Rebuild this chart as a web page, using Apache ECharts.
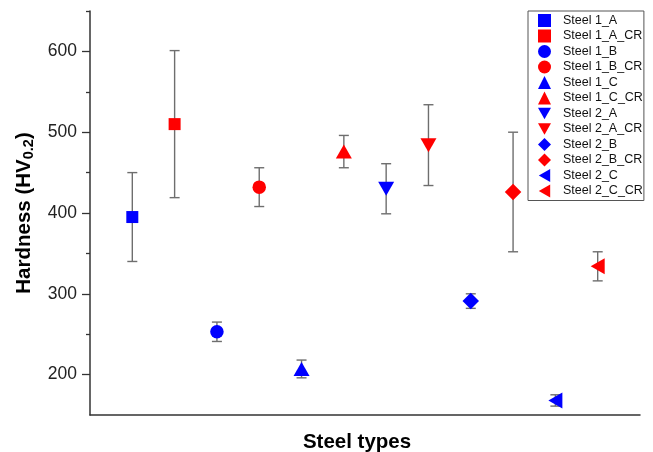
<!DOCTYPE html>
<html>
<head>
<meta charset="utf-8">
<script src="https://cdn.jsdelivr.net/npm/echarts@6/dist/echarts.min.js"></script>
<style>
html,body{margin:0;padding:0;background:#fff;}
#chart{width:653px;height:452px;}
</style>
</head>
<body>
<div id="chart"></div>
<script>
// ---- data ----
const seriesNames = ['Steel 1_A','Steel 1_A_CR','Steel 1_B','Steel 1_B_CR','Steel 1_C','Steel 1_C_CR',
                     'Steel 2_A','Steel 2_A_CR','Steel 2_B','Steel 2_B_CR','Steel 2_C','Steel 2_C_CR'];
const xPositions = [1,2,3,4,5,6,7,8,9,10,11,12];
const hardness = [395, 510, 253, 432, 207, 476, 430, 484, 291, 426, 168, 334];
const errors   = [ 55,  91,  12,  24,  11,  20,  31,  50,   9,  74,   7,  18];
const yTicks = [200, 300, 400, 500, 600];
const yMinorTicks = [250, 350, 450, 550, 650];

// ---- styles ----
const colors = ['#0000ff','#ff0000'];
const TRI_DOWN = 'path://M0,0L16,0L8,14Z';
const TRI_LEFT = 'path://M14,0L14,16L0,8Z';
const symbols = ['rect','rect','circle','circle','triangle','triangle',TRI_DOWN,TRI_DOWN,'diamond','diamond',TRI_LEFT,TRI_LEFT];
const sizes = [12,12,13.5,13.5,[16,14],[16,14],[16,14],[16,14],16.5,16.5,[14,16],[14,16]];

const FONT = 'Liberation Sans, Arial, sans-serif';

const scatterSeries = seriesNames.map((name, i) => ({
  name: name,
  type: 'scatter',
  symbol: symbols[i],
  symbolSize: sizes[i],
  itemStyle: { color: colors[i % 2], opacity: 1 },
  data: [[xPositions[i], hardness[i]]],
  z: 3
}));

const errData = xPositions.map((x, i) => [x, hardness[i] - errors[i], hardness[i] + errors[i]]);

const errorSeries = {
  type: 'custom',
  name: 'err',
  data: errData,
  z: 2,
  silent: true,
  renderItem: function (params, api) {
    const x = api.value(0);
    const lo = api.coord([x, api.value(1)]);
    const hi = api.coord([x, api.value(2)]);
    const hw = 5;
    const style = { stroke: '#6e6e6e', lineWidth: 1.4, fill: null };
    return {
      type: 'group',
      children: [
        { type: 'line', shape: { x1: lo[0], y1: lo[1], x2: hi[0], y2: hi[1] }, style: style },
        { type: 'line', shape: { x1: lo[0]-hw, y1: lo[1], x2: lo[0]+hw, y2: lo[1] }, style: style },
        { type: 'line', shape: { x1: hi[0]-hw, y1: hi[1], x2: hi[0]+hw, y2: hi[1] }, style: style }
      ]
    };
  }
};

const chart = echarts.init(document.getElementById('chart'), null, { renderer: 'canvas' });
chart.setOption({
  animation: false,
  backgroundColor: '#fff',
  grid: { left: 90, right: 13, top: 11, bottom: 37, containLabel: false, outerBoundsMode: 'none' },
  legend: {
    data: seriesNames,
    orient: 'vertical',
    left: 528,
    top: 11,
    padding: [3, 1, 3, 10],
    itemGap: 2.5,
    itemWidth: 13,
    itemHeight: 13,
    borderColor: '#555',
    borderWidth: 1,
    backgroundColor: '#fff',
    textStyle: { fontFamily: FONT, fontSize: 12.5, color: '#111', padding: [0,0,0,7] },
    selectedMode: false
  },
  xAxis: {
    type: 'value',
    min: 0,
    max: 13,
    name: 'Steel types',
    nameLocation: 'middle',
    nameGap: 17,
    nameTextStyle: { fontFamily: FONT, fontSize: 20.5, fontWeight: 'bold', color: '#000', padding: [0, 16, 0, 0] },
    axisLine: { show: true, onZero: false, lineStyle: { color: '#333', width: 1.5 } },
    axisTick: { show: false },
    axisLabel: { show: false },
    splitLine: { show: false }
  },
  yAxis: [
    {
      type: 'value',
      min: 150,
      max: 650,
      name: '{b|Hardness (HV}{s|0.2}{b|)}',
      nameLocation: 'middle',
      nameGap: 54,
      nameTextStyle: {
        rich: {
          b: { fontFamily: FONT, fontSize: 20.5, fontWeight: 'bold', color: '#000' },
          s: { fontFamily: FONT, fontSize: 14.5, fontWeight: 'bold', color: '#000', padding: [9,0,0,0] }
        }
      },
      axisLine: { show: true, lineStyle: { color: '#333', width: 1.5 } },
      axisTick: { show: true, inside: false, length: 8, customValues: yTicks, lineStyle: { color: '#333', width: 1.3 } },
      axisLabel: { show: true, customValues: yTicks, fontFamily: FONT, fontSize: 17.5, color: '#222', margin: 13 },
      splitLine: { show: false }
    },
    {
      type: 'value',
      min: 150,
      max: 650,
      position: 'left',
      axisLine: { show: false },
      axisTick: { show: true, inside: false, length: 4, customValues: yMinorTicks, lineStyle: { color: '#333', width: 1.3 } },
      axisLabel: { show: false },
      splitLine: { show: false }
    }
  ],
  series: [errorSeries].concat(scatterSeries)
});
</script>
</body>
</html>
